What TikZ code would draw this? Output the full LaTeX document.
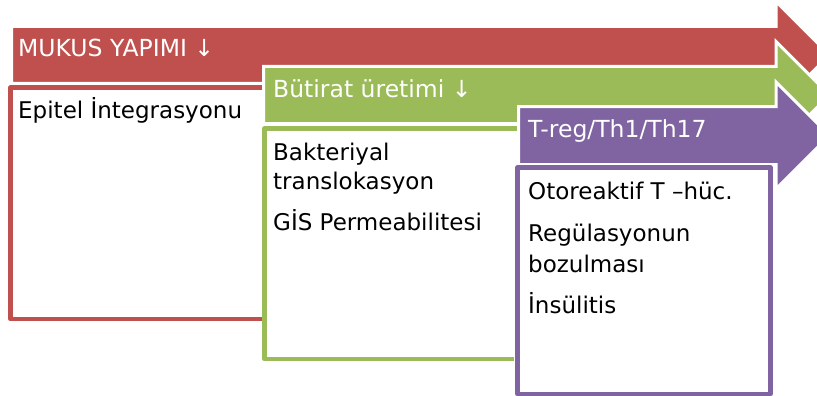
\documentclass[tikz,border=0pt]{standalone}
\usepackage{fontspec}
\setmainfont{DejaVu Sans}
\definecolor{stepred}{HTML}{C0504D}
\definecolor{stepgreen}{HTML}{9BBB59}
\definecolor{steppurple}{HTML}{8064A2}
\tikzset{
  blockarrow/.style={fill=#1, draw=white, line width=3pt, line join=miter},
  framebox/.style={draw=#1, line width=4.5pt, line join=round},
  headtext/.style={anchor=base west, inner sep=0pt, text=white,
    font=\fontsize{23.5}{27}\selectfont},
  bodytext/.style={anchor=base west, inner sep=0pt, text=black,
    font=\fontsize{23}{27}\selectfont},
}
\begin{document}
\begin{tikzpicture}[x=1pt, y=-1pt]
  \useasboundingbox (0,0) rectangle (817,396);

  % first step: red arrow and its open frame
  \draw[blockarrow=stepred]
    (11.5,26.5) -- (776,26.5) -- (776,1.5) -- (829.5,55) -- (776,108.5)
    -- (776,83.5) -- (11.5,83.5) -- cycle;
  \draw[framebox=stepred]
    (264,87.5) -- (10.5,87.5) -- (10.5,319) -- (264,319);
  \node[headtext] (h1) at (18,57) {MUKUS YAPIMI ↓};
  \node[bodytext] (t1) at (18,118) {Epitel İntegrasyonu};

  % second step: green arrow and its open frame
  \draw[blockarrow=stepgreen]
    (263.5,66.5) -- (776,66.5) -- (776,41.5) -- (829.5,95) -- (776,148.5)
    -- (776,123.5) -- (263.5,123.5) -- cycle;
  \draw[framebox=stepgreen]
    (517,128.5) -- (264.5,128.5) -- (264.5,359) -- (517,359);
  \node[headtext] (h2) at (273,97) {Bütirat üretimi ↓};
  \node[bodytext] (t2a) at (273,160) {Bakteriyal};
  \node[bodytext] (t2b) at (273,189) {translokasyon};
  \node[bodytext] (t2c) at (273,230) {GİS Permeabilitesi};

  % third step: purple arrow and its closed frame
  \draw[blockarrow=steppurple]
    (518.5,106.5) -- (776,106.5) -- (776,82) -- (829.5,135.5) -- (776,189)
    -- (776,164.5) -- (518.5,164.5) -- cycle;
  \draw[draw=white, line width=7pt] (517.5,167.5) rectangle (770.5,394);
  \draw[framebox=steppurple, fill=white] (517.5,167.5) rectangle (770.5,394);
  \node[headtext] (h3) at (528,137) {T-reg/Th1/Th17};
  \node[bodytext] (t3a) at (528,199) {Otoreaktif T –hüc.};
  \node[bodytext] (t3b) at (528,241) {Regülasyonun};
  \node[bodytext] (t3c) at (528,272) {bozulması};
  \node[bodytext] (t3d) at (528,313) {İnsülitis};
\end{tikzpicture}
\end{document}
